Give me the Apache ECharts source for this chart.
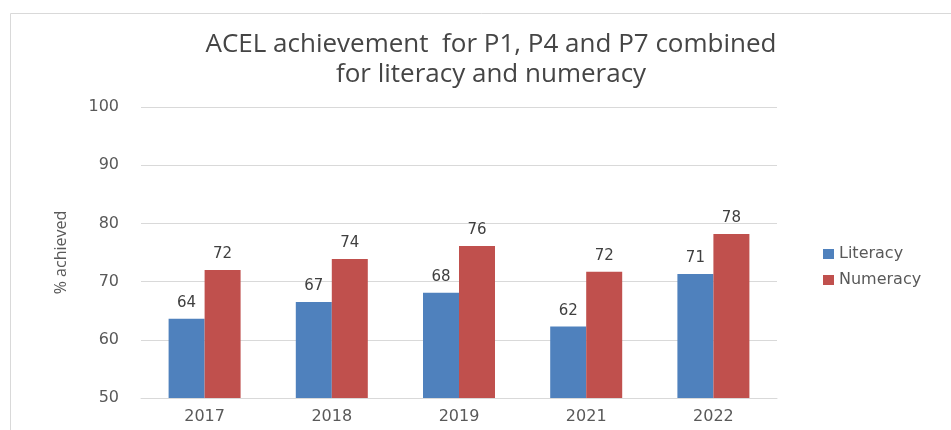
<!DOCTYPE html>
<html>
<head>
<meta charset="utf-8">
<script src="https://cdn.jsdelivr.net/npm/echarts@6/dist/echarts.min.js"></script>
<style>
  html, body { margin: 0; padding: 0; background: #fff; }
  #chart { width: 951px; height: 430px; }
</style>
</head>
<body>
<div id="chart"></div>
<script>
const years = ['2017', '2018', '2019', '2021', '2022'];
const literacy = [63.6, 66.5, 68.1, 62.3, 71.3];
const numeracy = [72.0, 73.9, 76.1, 71.7, 78.2];
const yTicks = { min: 50, max: 100, interval: 10 };

const textColor = '#595959';
const gridColor = '#d9d9d9';

const chart = echarts.init(document.getElementById('chart'));

// data label shows the rounded value above each bar
function barLabel() {
    return {
        show: true,
        position: 'top',
        distance: 8,
        color: '#404040',
        fontFamily: 'DejaVu Sans',
        fontSize: 15,
        formatter: function(p) { return Math.round(p.value); }
    };
}

chart.setOption({
    animation: false,
    title: {
        text: 'ACEL achievement  for P1, P4 and P7 combined\nfor literacy and numeracy',
        left: 486,
        textAlign: 'center',
        top: 25,
        textStyle: {
            fontFamily: 'Open Sans',
            fontWeight: 'normal',
            fontSize: 26,
            lineHeight: 30,
            color: '#454545'
        }
    },
    graphic: [{
        type: 'rect',
        shape: { x: 10.5, y: 13.5, width: 960, height: 440 },
        style: { fill: 'none', stroke: gridColor, lineWidth: 1 },
        silent: true
    }],
    legend: {
        orient: 'vertical',
        left: 818,
        top: 241,
        itemWidth: 11,
        itemHeight: 10,
        itemGap: 10,
        icon: 'rect',
        textStyle: { fontFamily: 'DejaVu Sans', fontSize: 16, color: textColor },
        data: ['Literacy', 'Numeracy']
    },
    grid: { left: 141, right: 174, top: 107, bottom: 32 },
    xAxis: {
        type: 'category',
        data: years,
        axisTick: { show: false },
        axisLine: { lineStyle: { color: gridColor } },
        axisLabel: { color: textColor, fontFamily: 'DejaVu Sans', fontSize: 16, margin: 11 }
    },
    yAxis: {
        type: 'value',
        min: yTicks.min,
        max: yTicks.max,
        interval: yTicks.interval,
        name: '% achieved',
        nameLocation: 'middle',
        nameGap: 72,
        nameRotate: 90,
        nameTextStyle: { fontFamily: 'Open Sans', fontSize: 16, color: textColor },
        axisLine: { show: false },
        axisTick: { show: false },
        axisLabel: { color: textColor, fontFamily: 'DejaVu Sans', fontSize: 16, margin: 22 },
        splitLine: { lineStyle: { color: gridColor } }
    },
    series: [
        {
            name: 'Literacy',
            type: 'bar',
            data: literacy,
            barWidth: 36,
            barGap: '0%',
            itemStyle: { color: '#4f81bd' },
            label: barLabel()
        },
        {
            name: 'Numeracy',
            type: 'bar',
            data: numeracy,
            barWidth: 36,
            itemStyle: { color: '#c0504d' },
            label: barLabel()
        }
    ]
});
</script>
</body>
</html>
